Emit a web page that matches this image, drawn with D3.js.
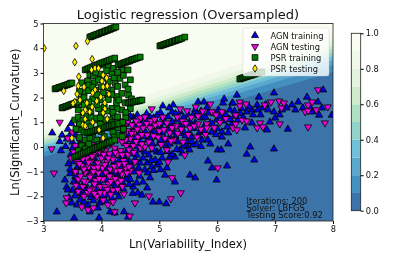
<!DOCTYPE html>
<html>
<head>
<meta charset="utf-8">
<script src="https://cdnjs.cloudflare.com/ajax/libs/d3/7.8.5/d3.min.js"></script>
<style>
  html, body { margin: 0; padding: 0; background: #fff; }
  svg { display: block; filter: blur(0.3px); }
  text { font-family: "DejaVu Sans", sans-serif; fill: #111; }
  .axis text { font-size: 8.3px; }
</style>
</head>
<body>
<svg id="chart" width="415" height="260"></svg>
<script>
// Probability bands, low to high
const bandColors = ["#3c74a9", "#438fc0", "#5ba8cf", "#6fc0d8", "#92d4ca", "#b0e0c2", "#cdebc8", "#e2f3de", "#f0f9e9", "#f8fcf1"];
const bandLevels = [0, 0.1, 0.2, 0.3, 0.4, 0.5, 0.6, 0.7, 0.8, 0.9, 1];
// Height of each contour line at x = 3 and at x = 8 (levels 0.1 to 0.9)
const contourLeft = [-0.41, -0.21, -0.07, 0.04, 0.14, 0.24, 0.35, 0.49, 0.69];
const contourRight = [3.04, 3.33, 3.52, 3.68, 3.83, 3.98, 4.13, 4.33, 4.62];

const xTicks = [3, 4, 5, 6, 7, 8];
const yTicks = [-3, -2, -1, 0, 1, 2, 3, 4, 5];
const cbTicks = [0, 0.2, 0.4, 0.6, 0.8, 1];
const legendLabels = ["AGN training", "AGN testing", "PSR training", "PSR testing"];
const noteLines = ["Iterations: 200", "Solver: LBFGS", "Testing Score:0.92"];

const agnTraining = [
  [3.15,.57],[3.23,-2.63],[3.28,.22],[3.3,-.15],[3.37,-1.34],[3.42,.72],[3.45,.45],[3.4,-1.63],[3.47,-.32],[3.44,-2.05],[3.5,-1.75],[3.48,.95],[3.53,-2.88],[3.5,.2],[3.52,-.6],
  [3.42,-1.74],[3.6,-1.74],[3.49,-2.27],[3.63,-2.15],[3.77,-2.35],[3.8,-2.63],[3.94,-2.47],[3.96,-2.87],[3.97,-2.27],[4.01,-2.15],[4.15,-2.63],[4.23,-2.67],[4.39,-2.63],[4.46,-2.84],
  [3.55,-1.2],[3.58,-.85],[3.6,-.3],[3.62,.1],[3.57,-1.45],[3.65,-1.9],[3.68,-1.55],[3.7,-1.1],[3.72,-.65],[3.75,-1.75],[3.78,-1.35],[3.8,-.9],[3.82,-2.05],[3.85,-1.62],[3.88,-1.15],[3.9,-.55],[3.92,-1.9],[3.95,-1.42],[3.98,-.95],
  [4.0,-1.72],[4.04,-1.22],[4.07,-.7],[4.1,-1.95],[4.13,-1.5],[4.16,-1.02],[4.2,-1.46],[4.22,-.6],[4.26,-1.85],[4.3,-1.15],[4.32,-1.54],[4.35,-.8],[4.38,-.35],[4.42,-1.3],[4.46,-1.14],[4.48,-.6],[4.5,.3],[4.53,.08],
  [4.55,-1.62],[4.55,-1.01],[4.58,.36],[4.61,-1.46],[4.61,-.33],[4.63,-1.86],[4.67,.2],[4.67,-.65],[4.7,-1.95],[4.72,-1.42],[4.72,1.17],[4.75,-.93],[4.75,-.2],[4.79,-1.66],[4.79,-.65],[4.8,.28],[4.84,1.21],[4.87,-.81],[4.89,-2.23],[4.93,.4],[4.93,-.53],[4.96,1.29],[4.96,-.73],[4.96,-.2],
  [5.0,-2.23],[5.05,.57],[5.05,-.45],[5.06,1.66],[5.06,1.17],[5.1,-1.14],[5.12,-2.3],[5.13,-.85],[5.17,1.58],[5.18,.4],[5.18,-.41],[5.22,1.42],[5.24,1.7],[5.27,-1.42],[5.27,-.41],[5.31,1.09],[5.31,.2],[5.36,1.42],[5.36,-.12],[5.48,.2],[5.48,0],[5.53,1.01],[5.53,-1.14],[5.58,.08],[5.62,1.5],[5.62,-1.25],
  [5.67,1.82],[5.74,.28],[5.75,1.17],[5.77,1.82],[5.82,1.58],[5.84,.28],[5.84,-.57],[5.88,.97],[5.91,-.85],[5.99,1.09],[5.99,-1.34],[6.01,-.12],[6.07,-.12],[6.08,.61],[6.1,1.78],[6.12,1.94],[6.17,.81],[6.17,-.77],[6.19,.57],[6.19,.12],[6.22,1.5],[6.26,1.78],[6.26,.97],[6.27,1.78],[6.34,2.1],[6.48,.77],[6.51,1.42],[6.51,-.29],[6.57,0],[6.6,1.5],[6.6,.97],[6.64,-.53],[6.69,1.7],[6.7,1.5],[6.72,2.02],[6.79,1.58],[6.86,.69],[6.88,1.5],[6.91,1.01],[6.98,2.19],[6.98,1.42],[6.98,-.08],[7.0,1.17],[7.2,1.58],[7.22,.72],[7.29,1.7],[7.4,1.82],[7.55,2.02],[7.64,1.42],[7.74,1.82],[7.76,1.29],[7.81,1.58],[7.83,2.31],[7.98,1.29],
  [4.4,.75],[4.45,1.05],[4.5,.6],[4.55,1.2],[4.6,.85],[4.65,.55],[4.7,.95],[4.75,.65],[4.8,1.05],[4.85,.3],[4.9,.6],[4.95,1.0],[5.0,.15],[5.03,.8],[5.1,.3],[5.12,.05],[5.2,.85],[5.25,.6],[5.3,-.1],[5.35,.55],[5.4,.9],[5.45,.45],[5.5,1.3],[5.55,.4],[5.6,.75],[5.65,1.35],[5.7,.6],[5.8,1.2],[5.9,.6],[5.95,1.35],[6.0,.75],[6.05,1.25],[6.15,1.3],[6.3,1.25],[6.4,1.35],[6.45,1.2],
  // denser cloud, read row by row
  [4.5,1.25],[4.62,1.3],[4.78,1.35],[4.9,1.18],[5.02,1.4],[5.15,1.22],[5.28,1.35],[5.42,1.2],[5.58,1.28],[5.72,1.45],[5.85,1.38],[6.02,1.5],
  [4.42,.92],[4.58,1.02],[4.68,.8],[4.82,.92],[4.98,.82],[5.08,.98],[5.22,1.02],[5.35,.82],[5.5,.95],[5.62,.98],[5.78,.85],[5.92,.92],[6.1,1.05],[6.22,1.12],
  [4.46,.48],[4.56,.62],[4.72,.42],[4.86,.52],[4.98,.62],[5.14,.68],[5.28,.42],[5.42,.62],[5.52,.58],[5.68,.45],[5.78,.62],[5.98,.5],[6.08,.4],
  [4.42,.15],[4.56,.18],[4.62,.02],[4.72,.08],[4.88,.12],[5.02,.28],[5.18,.12],[5.26,.28],[5.42,.05],[5.56,.22],[5.64,.1],[5.72,.02],[5.88,.12],
  [4.44,-.18],[4.52,-.28],[4.66,-.12],[4.82,-.32],[4.9,-.12],[5.02,-.22],[5.14,-.18],[5.22,-.3],[5.4,-.25],[5.52,-.12],
  [3.62,-.55],[3.74,-.38],[3.86,-.48],[3.98,-.3],[4.08,-.42],[4.2,-.28],[4.32,-.52],[4.42,-.55],[4.58,-.5],[4.72,-.45],[4.86,-.55],[5.0,-.62],
  [3.55,-.98],[3.66,-.8],[3.76,-1.02],[3.88,-.78],[4.0,-1.1],[4.12,-.85],[4.25,-1.08],[4.4,-.9],[4.52,-.78],[4.64,-.85],[4.8,-1.05],[4.9,-.95],[5.02,-.92],
  [3.46,-1.08],[3.52,-1.42],[3.62,-1.32],[3.72,-1.5],[3.84,-1.28],[3.96,-1.22],[4.08,-1.35],[4.2,-1.22],[4.36,-1.42],[4.5,-1.32],[4.66,-1.18],[4.84,-1.25],
  [3.54,-1.98],[3.62,-1.62],[3.7,-1.78],[3.8,-1.92],[3.9,-1.72],[4.02,-1.98],[4.12,-1.75],[4.24,-1.6],[4.38,-1.7],[4.48,-1.52],[4.54,-1.88],
  [3.58,-2.35],[3.7,-2.22],[3.86,-2.18],[4.08,-2.22],[4.18,-2.08],[4.3,-2.02],
  [3.32,.48],[3.38,.02],[3.4,.32],[3.43,-.68],[3.46,-.9],[3.5,-.05],[3.55,.5],[3.58,.78],
  [6.3,1.45],[6.42,1.55],[6.55,1.62],[6.62,1.3],[6.36,1.1],[6.75,1.3],[6.84,1.72],[7.08,1.3],[7.12,1.5],[7.35,1.5],[7.48,1.58],[7.6,1.6]
];

const agnTesting = [
  [3.14,-.08],[3.18,-1.06],[3.4,-2.06],[3.39,-2.27],[3.66,-2.43],[3.77,-2.55],[3.86,-2.47],[4.03,-2.15],[4.11,-2.35],[4.2,-2.23],[4.23,-2.63],[4.39,-1.91],[4.49,-2.8],[4.58,-2.27],[4.82,-1.99],[5.2,-2.1],[5.37,-1.86],[5.22,-1.25],
  [3.28,1.0],[3.42,.35],[3.5,.6],[3.55,.05],[3.48,-.45],[3.52,-.2],[3.6,.35],[3.58,-.6],[3.55,-1.0],[3.62,-.3],[3.65,.02],[3.6,-1.3],[3.66,-.75],[3.7,-.15],[3.72,-1.05],[3.68,-1.6],[3.75,-.45],[3.78,-.8],[3.74,-1.4],[3.76,-1.85],[3.8,-.25],[3.83,-1.15],[3.82,-.58],[3.85,-1.7],[3.87,-.85],[3.88,-.3],[3.9,-1.35],[3.92,-2.0],[3.94,-.65],[3.95,-1.05],[3.97,-.2],[3.98,-1.6],[4.0,-.45],[4.02,-.85],[4.03,-1.3],[4.05,-1.85],[4.07,-.15],[4.08,-1.05],[4.1,-.6],[4.12,-1.5],[4.14,-.28],[4.15,-.9],[4.18,-1.25],[4.2,-1.75],[4.2,-.5],[4.23,-.05],[4.25,-.95],[4.27,-.3],[4.28,-1.45],[4.3,-.7],[4.33,-.15],[4.35,-1.1],[4.36,.2],[4.38,-.55],[4.4,.5],[4.42,-.85],[4.43,.05],[4.45,.65],[4.46,-.3],[4.5,.35],[4.5,-.95],[4.53,.89],[4.55,.05],[4.58,.62],[4.58,-.6],[4.63,.4],[4.65,.9],[4.65,-1.05],[4.67,1.17],[4.67,-.04],[4.72,.77],[4.75,1.21],[4.75,0],[4.79,.49],[4.84,.77],[4.87,1.54],[4.87,-.04],[4.93,.89],[4.98,.4],[5.06,1.21],[5.13,.97],[5.13,-.12],[5.15,-.61],[5.18,.57],[5.29,.85],[5.31,1.21],[5.36,1.54],[5.41,.2],[5.44,-.33],[5.48,1.46],[5.53,.77],[5.63,1.62],[5.65,.4],[5.67,1.25],[5.67,.93],[5.82,.93],[5.82,.77],[5.88,1.74],[5.91,1.42],[6.01,-.85],[6.08,1.42],
  [6.27,.77],[6.32,.93],[6.32,1.29],[6.34,.69],[6.39,1.82],[6.39,1.66],[6.43,1.09],[6.5,1.74],[6.51,1.05],[6.69,.77],[6.74,.97],[6.79,.81],[6.82,1.7],[6.93,1.82],[7.07,1.86],[7.08,.93],[7.11,1.58],[7.15,1.78],[7.52,1.42],[7.57,1.7],[7.57,1.46],[7.57,.81],[7.64,1.82],[7.71,1.5],[7.74,2.31],[7.86,.97],[7.91,1.62],
  [4.0,-.05],[3.85,.1],[4.15,.12],[3.7,.15],[4.28,.3],[4.1,.22],[3.95,.3],[4.45,1.0],[4.6,1.05],[4.85,1.05],[5.0,.65],[5.1,.35],[5.25,.3],[5.4,1.05],[5.55,1.2],[5.75,1.45],[5.98,1.3],[6.15,1.15],
  // denser cloud, read row by row
  [3.6,-.12],[3.68,-.48],[3.76,-.02],[3.84,-.38],[3.92,-.12],[4.04,-.3],[4.12,-.45],[4.24,-.22],[4.36,-.32],[4.48,-.12],[4.56,-.22],
  [3.62,-.68],[3.7,-.9],[3.78,-.62],[3.86,-1.0],[3.94,-.82],[4.06,-.72],[4.14,-1.18],[4.22,-.78],[4.32,-.95],[4.4,-.68],[4.48,-.8],
  [3.56,-1.55],[3.64,-1.18],[3.7,-1.38],[3.8,-1.22],[3.88,-1.5],[3.96,-1.28],[4.06,-1.62],[4.16,-1.4],[4.24,-1.28],[4.34,-1.35],[4.44,-1.05],
  [3.6,-1.8],[3.7,-2.0],[3.8,-1.75],[3.88,-1.88],[3.98,-1.85],[4.1,-1.72],[4.16,-1.92],[4.28,-1.72],[4.36,-1.6],
  [4.4,.85],[4.42,.3],[4.52,.55],[4.6,.22],[4.62,.72],[4.7,.5],[4.7,.12],[4.78,.95],[4.82,.2],[4.9,.45],[4.92,1.12],[5.0,.95],[5.03,.1],[5.08,.7],[5.2,.25],[5.22,.78],[5.32,.55],[5.38,.72],[5.46,.95],[5.5,.5],[5.6,.85],[5.72,.72],[5.8,.5],[5.95,.78],[6.05,1.0]
];

const psrTraining = [
  [4.22,3.56],[4.03,3.32],[4.12,3.28],[4.21,3.18],[4.09,3.09],[4.35,3.14],[4.46,3.12],[3.98,2.95],[4.18,2.95],[4.32,2.78],[3.8,2.91],[3.76,2.67],[3.86,2.87],[3.46,2.58],[4.24,2.58],[4.0,2.44],[4.41,2.51],[4.35,2.17],[4.18,2.31],[4.26,2.04],[4.47,2.1],[4.41,1.79],[4.66,1.87],[3.98,1.9],[4.26,1.77],[4.35,1.5],[4.18,1.56],[3.8,1.63],[4.0,1.36],[4.21,1.23],[3.92,1.09],[4.32,1.02],[4.09,.82],[3.75,.96],
  [4.27,1.54],[4.37,.97],[4.15,.28],[3.8,-.12],[3.94,.69],[4.06,1.09],[3.89,0],[3.68,1.38],[3.89,1.17],[3.63,.69],[4.01,-.04],[4.29,.48],[3.72,.28],[4.11,.77],[3.54,1.09],[3.9,2.3],[3.7,2.2],[4.1,2.1],[3.85,1.95],[3.65,1.95],[3.95,1.55],[4.1,1.45],[3.6,1.5],[3.75,1.25],
  // blob filling
  [3.78,2.5],[3.88,2.6],[3.95,2.72],[4.05,2.8],[4.12,2.65],[4.28,2.45],[4.1,2.4],[3.92,2.12],[3.78,2.28],[3.66,2.6],[3.7,2.0],[3.78,1.82],[4.03,2.2],[4.18,2.12],[4.3,1.9],[4.12,1.92],[3.92,1.72],[4.05,1.62],[4.2,1.4],[3.7,1.7],[3.82,1.45],[3.6,1.2],[3.68,1.08],[3.82,1.2],[3.98,1.18],[4.14,1.1],[4.28,1.22],[4.42,1.2],[3.62,.92],[3.82,.82],[3.98,.92],[4.18,.98],[4.28,.78],[3.7,.6],[3.85,.55],[4.0,.62],[4.2,.6],[3.62,.38],[3.8,.35],[3.92,.28],[4.05,.42],[4.22,.4],[3.66,.05],[3.78,.12],[3.96,.1],[4.08,.18],[3.6,-.15],[3.72,-.08],[4.22,2.8],[4.38,2.9],[4.28,3.02],[3.9,3.02],[3.85,2.42],
  [4.5,2.72],[4.46,2.35],[4.52,1.95],[4.5,1.55],[4.42,1.4],[4.38,.72],[3.56,.72],[3.58,1.72],[3.62,2.25],[4.36,.42],
  // oversampled runs
  [3.80,4.45],[3.82,4.47],[3.85,4.49],[3.87,4.52],[3.90,4.54],[3.92,4.56],[3.95,4.58],[3.97,4.61],[4.00,4.63],[4.02,4.65],[4.05,4.67],[4.07,4.70],[4.10,4.72],[4.12,4.74],[4.15,4.76],[4.17,4.79],[4.20,4.81],[4.22,4.83],[4.25,4.86],
  [5.01,4.09],[5.03,4.11],[5.06,4.13],[5.08,4.15],[5.11,4.17],[5.13,4.19],[5.16,4.21],[5.18,4.23],[5.21,4.25],[5.23,4.27],[5.26,4.29],[5.28,4.31],[5.31,4.33],[5.33,4.35],[5.36,4.37],[5.39,4.40],[5.44,4.45],
  [3.20,2.35],[3.22,2.37],[3.25,2.39],[3.27,2.41],[3.30,2.43],[3.32,2.45],[3.35,2.47],[3.37,2.49],[3.40,2.51],[3.42,2.53],[3.45,2.55],[3.49,2.59],
  [3.72,3.12],[3.75,3.15],[3.78,3.18],[3.81,3.21],[3.84,3.24],[3.87,3.27],[3.90,3.30],[3.93,3.33],[3.96,3.36],[3.99,3.39],[4.02,3.41],[4.05,3.44],[4.08,3.46],[4.11,3.49],[4.14,3.52],[4.18,3.56],[4.23,3.60],
  [4.29,3.32],[4.32,3.34],[4.34,3.36],[4.37,3.39],[4.39,3.41],[4.42,3.43],[4.44,3.45],[4.47,3.47],[4.49,3.49],[4.52,3.52],[4.54,3.54],[4.57,3.56],[4.60,3.59],[4.63,3.61],[4.67,3.64],
  [3.32,1.58],[3.34,1.60],[3.37,1.62],[3.39,1.64],[3.42,1.66],[3.44,1.69],[3.47,1.71],[3.49,1.73],[3.52,1.75],[3.56,1.78],[3.60,1.82],
  [4.46,1.78],[4.49,1.79],[4.52,1.81],[4.55,1.82],[4.58,1.84],[4.61,1.85],[4.64,1.87],[4.67,1.89],[4.70,1.90],
  [6.39,2.75],[6.41,2.77],[6.44,2.79],[6.46,2.81],[6.49,2.83],[6.51,2.85],[6.54,2.87],[6.57,2.89],[6.60,2.91],[6.63,2.94],[6.66,2.96],[6.71,3.0],[6.77,3.04],
  [3.54,-.41],[3.57,-.38],[3.60,-.35],[3.63,-.32],[3.66,-.29],[3.69,-.26],[3.72,-.23],[3.75,-.2],[3.78,-.17],[3.81,-.14],[3.84,-.11],[3.87,-.08],[3.90,-.05],[3.93,-.02],[3.96,.01],[3.99,.04],[4.02,.07],[4.05,.1],[4.08,.13],[4.11,.16],[4.14,.19],[4.18,.23],[4.23,.28],
  [3.75,.57],[3.78,.59],[3.81,.61],[3.84,.63],[3.87,.65],[3.90,.67],[3.93,.69],[3.96,.71],[3.99,.73],[4.02,.75],[4.05,.78],[4.08,.8],[4.11,.82],[4.14,.84],[4.17,.86],[4.2,.88],[4.23,.91],[4.27,.93],[4.30,.95],[4.37,1.0]
];

const psrTesting = [
  [3.01,4.0],[3.56,4.09],[3.76,4.28],[3.54,3.43],[3.84,3.56],[3.61,2.85],[3.83,3.12],[3.89,3.19],[3.95,3.19],[4.03,2.91],[4.09,2.79],[4.01,2.67],[3.6,2.47],[3.7,2.43],[3.35,2.27],[4.03,2.43],[4.1,2.47],[3.89,2.31],[3.85,2.19],[4.13,2.14],[3.58,2.14],[3.63,1.9],[3.54,1.82],[3.51,1.76],[3.75,1.78],[3.92,1.86],[3.99,2.02],[4.06,1.78],[3.72,1.5],[3.68,1.38],[3.8,1.42],[3.84,1.62],[4.06,1.54],[4.03,1.38],[3.72,1.13],[3.85,1],[4.1,1.13],[3.68,.89],[3.49,.36],[4.03,.36],[3.72,.85],[3.96,.69]
];

const svg = d3.select("#chart");

const x = d3.scaleLinear().domain([3, 8]).range([43.5, 333]);
const y = d3.scaleLinear().domain([-3, 5]).range([221, 23.5]);
const cbY = d3.scaleLinear().domain([0, 1]).range([210.7, 33.3]);

svg.append("clipPath").attr("id", "plot-clip")
  .append("rect")
  .attr("x", x(3)).attr("y", y(5))
  .attr("width", x(8) - x(3)).attr("height", y(-3) - y(5));

const plot = svg.append("g").attr("clip-path", "url(#plot-clip)");

// Background bands: each one fills from its contour line up to the top
plot.append("rect")
  .attr("x", x(3)).attr("y", y(5))
  .attr("width", x(8) - x(3)).attr("height", y(-3) - y(5))
  .attr("fill", bandColors[0]);

const bandArea = d3.area()
  .x(d => x(d[0]))
  .y0(y(5))
  .y1(d => y(d[1]));

contourLeft.forEach((left, i) => {
  plot.append("path")
    .attr("d", bandArea([[3, left], [8, contourRight[i]]]))
    .attr("fill", bandColors[i + 1]);
});

// Marker shapes
const triangle = d3.symbol().type(d3.symbolTriangle).size(22)();
const square = d3.symbol().type(d3.symbolSquare).size(33)();
const diamond = "M0,-3.7L2.3,0L0,3.7L-2.3,0Z";

const markers = [
  { points: agnTraining, shape: triangle, fill: "#0000e6", rotate: 0 },
  { points: agnTesting, shape: triangle, fill: "#f000e0", rotate: 180 },
  { points: psrTraining, shape: square, fill: "#007a00", rotate: 0 },
  { points: psrTesting, shape: diamond, fill: "#ffee00", rotate: 0 }
];

markers.forEach(m => {
  plot.append("g").selectAll("path")
    .data(m.points)
    .join("path")
    .attr("d", m.shape)
    .attr("transform", d => `translate(${x(d[0])},${y(d[1])}) rotate(${m.rotate})`)
    .attr("fill", m.fill)
    .attr("stroke", "#000")
    .attr("stroke-width", 0.8);
});

// Axes
const xAxis = svg.append("g").attr("class", "axis")
  .attr("transform", `translate(0,${y(-3)})`)
  .call(d3.axisBottom(x).tickValues(xTicks).tickSize(3).tickPadding(2).tickFormat(d3.format("d")));
const yAxis = svg.append("g").attr("class", "axis")
  .attr("transform", `translate(${x(3)},0)`)
  .call(d3.axisLeft(y).tickValues(yTicks).tickSize(3).tickPadding(2).tickFormat(d => String(d).replace("-", "\u2212")));

svg.append("rect")
  .attr("x", x(3)).attr("y", y(5))
  .attr("width", x(8) - x(3)).attr("height", y(-3) - y(5))
  .attr("fill", "none").attr("stroke", "#222").attr("stroke-width", 0.8);

// Legend
const legend = svg.append("g");
legend.append("rect")
  .attr("x", 243).attr("y", 28).attr("width", 86).attr("height", 48).attr("rx", 2)
  .attr("fill", "#fff").attr("fill-opacity", 0.8).attr("stroke", "#ccc").attr("stroke-opacity", 0.6).attr("stroke-width", 0.6);

legendLabels.forEach((label, i) => {
  const rowY = 35.5 + i * 11;
  legend.append("path")
    .attr("d", markers[i].shape)
    .attr("transform", `translate(255,${rowY}) rotate(${markers[i].rotate})`)
    .attr("fill", markers[i].fill).attr("stroke", "#000").attr("stroke-width", 0.8);
  legend.append("text")
    .attr("x", 270.5).attr("y", rowY + 3)
    .attr("font-size", 8.3)
    .text(label);
});

// Fit notes
noteLines.forEach((line, i) => {
  svg.append("text")
    .attr("x", 246.5).attr("y", 203.5 + i * 7.4)
    .attr("font-size", 8.3)
    .text(line);
});

// Titles
svg.append("text").attr("x", 188).attr("y", 19).attr("text-anchor", "middle").attr("font-size", 13)
  .text("Logistic regression (Oversampled)");
svg.append("text").attr("x", 188).attr("y", 248).attr("text-anchor", "middle").attr("font-size", 11.6)
  .text("Ln(Variability_Index)");
svg.append("text").attr("transform", `translate(19,${y(1)}) rotate(-90)`).attr("text-anchor", "middle").attr("font-size", 11.6)
  .text("Ln(Significant_Curvature)");

// Colorbar
const cb = svg.append("g");
bandColors.forEach((color, i) => {
  cb.append("rect")
    .attr("x", 351.3).attr("width", 9.4)
    .attr("y", cbY(bandLevels[i + 1]))
    .attr("height", cbY(bandLevels[i]) - cbY(bandLevels[i + 1]))
    .attr("fill", color);
});
cb.append("rect")
  .attr("x", 351.3).attr("y", cbY(1)).attr("width", 9.4).attr("height", cbY(0) - cbY(1))
  .attr("fill", "none").attr("stroke", "#222").attr("stroke-width", 0.8);
cb.append("g").attr("class", "axis")
  .attr("transform", "translate(360.7,0)")
  .call(d3.axisRight(cbY).tickValues(cbTicks).tickSize(3).tickPadding(2).tickFormat(d3.format(".1f")));

[xAxis, yAxis, cb].forEach(g => g.selectAll(".domain").remove());
</script>
</body>
</html>
